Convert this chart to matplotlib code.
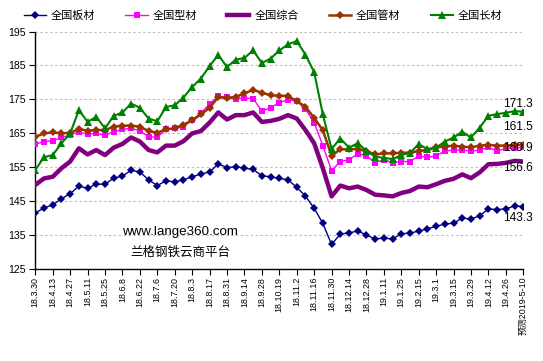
import matplotlib
matplotlib.use("Agg")
import matplotlib.pyplot as plt
from matplotlib.lines import Line2D

plt.rcParams['font.family'] = ['Liberation Sans', 'Noto Sans CJK SC', 'DejaVu Sans']

categories = [
    "18.3.30", "18.4.6", "18.4.13", "18.4.20", "18.4.27", "18.5.4", "18.5.11", "18.5.18",
    "18.5.25", "18.6.1", "18.6.8", "18.6.15", "18.6.22", "18.6.29", "18.7.6", "18.7.13",
    "18.7.20", "18.7.27", "18.8.3", "18.8.10", "18.8.17", "18.8.24", "18.8.31", "18.9.7",
    "18.9.14", "18.9.21", "18.9.28", "18.10.12", "18.10.19", "18.10.26", "18.11.2", "18.11.9",
    "18.11.16", "18.11.23", "18.11.30", "18.12.7", "18.12.14", "18.12.21", "18.12.28", "19.1.4",
    "19.1.11", "19.1.18", "19.1.25", "19.2.1", "19.2.15", "19.2.22", "19.3.1", "19.3.8",
    "19.3.15", "19.3.22", "19.3.29", "19.4.4", "19.4.12", "19.4.19", "19.4.26", "19.5.3",
    "预测2019-5-10",
]

plate = [141.4, 142.9, 143.8, 145.6, 147.1, 149.3, 148.7, 149.9, 149.9, 151.7,
         152.3, 154.0, 153.5, 151.2, 149.5, 150.9, 150.6, 151.2, 152.1, 152.9,
         153.5, 155.9, 154.8, 155.1, 154.6, 154.3, 152.4, 152.1, 151.6, 151.2,
         149.0, 146.4, 142.8, 138.3, 132.1, 135.2, 135.5, 136.1, 134.9, 133.7,
         134.0, 133.7, 135.3, 135.4, 136.1, 136.7, 137.5, 138.1, 138.4, 139.9,
         139.6, 140.6, 142.6, 142.4, 142.6, 143.5, 143.3]

section = [161.7, 162.5, 162.7, 163.7, 164.4, 165.4, 164.6, 164.9, 164.4, 165.4,
           166.1, 166.4, 165.7, 163.9, 163.8, 166.1, 166.4, 166.9, 168.9, 170.8,
           173.6, 175.9, 175.6, 175.0, 175.4, 175.2, 171.5, 172.5, 174.0, 174.8,
           174.5, 172.1, 168.1, 161.3, 153.9, 156.6, 157.1, 158.9, 158.2, 156.3,
           157.1, 156.3, 156.6, 156.6, 158.3, 157.8, 158.3, 159.7, 160.0, 160.0,
           159.7, 160.0, 160.8, 159.7, 160.5, 160.5, 160.9]

composite = [149.7, 151.6, 152.1, 154.6, 156.6, 160.5, 158.7, 160.0, 158.5, 160.7,
             161.8, 163.7, 162.5, 160.0, 159.3, 161.3, 161.3, 162.6, 164.9, 165.6,
             168.1, 171.1, 169.0, 170.3, 170.3, 171.1, 168.3, 168.6, 169.2, 170.3,
             169.3, 165.9, 162.0, 154.6, 146.3, 149.5, 148.7, 149.2, 148.2, 146.8,
             146.6, 146.3, 147.3, 147.9, 149.2, 149.0, 149.9, 150.9, 151.5, 152.8,
             151.7, 153.4, 155.8, 155.9, 156.2, 156.8, 156.6]

pipe = [163.9, 164.9, 165.2, 164.9, 165.1, 166.2, 165.7, 165.9, 165.9, 166.9,
        167.2, 167.2, 166.9, 165.6, 165.1, 166.1, 166.4, 167.4, 168.8, 170.5,
        172.5, 175.6, 175.4, 175.7, 176.7, 177.8, 176.9, 176.2, 176.0, 176.0,
        174.4, 172.8, 169.5, 165.8, 158.3, 160.2, 160.2, 160.3, 159.7, 158.7,
        159.0, 159.0, 159.2, 159.2, 159.7, 160.0, 160.8, 161.0, 161.3, 161.0,
        160.8, 161.3, 161.5, 161.3, 161.3, 161.5, 161.5]

long_ = [154.1, 157.9, 158.5, 162.0, 164.9, 171.8, 168.3, 169.8, 166.4, 170.1,
         171.1, 173.7, 172.5, 169.3, 168.5, 172.7, 173.2, 175.5, 178.6, 181.1,
         184.8, 188.1, 184.5, 186.7, 187.2, 189.4, 185.7, 187.0, 189.4, 191.2,
         192.2, 188.2, 183.0, 170.5, 160.3, 163.4, 160.7, 162.0, 159.8, 158.0,
         157.7, 157.3, 158.5, 159.2, 161.7, 160.3, 160.7, 162.5, 163.7, 165.4,
         163.7, 166.6, 170.1, 170.6, 171.0, 171.5, 171.3]

series_names = ["全国板材", "全国型材", "全国综合", "全国管材", "全国长材"]
y_ticks = [125, 135, 145, 155, 165, 175, 185, 195]

fig = plt.figure(figsize=(5.43, 3.61), dpi=100)
ax = fig.add_axes([0.065, 0.2562, 0.8987, 0.6565])

x = list(range(len(categories)))

styles = [
    dict(data=plate, color="#000080", lw=1.0, marker="D", ms=4.3),
    dict(data=section, color="#FF00FF", lw=1.0, marker="s", ms=5.0),
    dict(data=composite, color="#800080", lw=3.2, marker=None, ms=0),
    dict(data=pipe, color="#993300", lw=1.8, marker="D", ms=3.6),
    dict(data=long_, color="#008000", lw=1.5, marker="^", ms=6.0),
]
handles = []
for name, st in zip(series_names, styles):
    ax.plot(x, st["data"], color=st["color"], lw=st["lw"], marker=st["marker"],
            ms=st["ms"], markeredgewidth=0, solid_joinstyle="round", zorder=3)
    handles.append(Line2D([0], [0], color=st["color"], lw=st["lw"],
                          marker=st["marker"], ms=st["ms"], markeredgewidth=0, label=name))

ax.set_xlim(0, len(categories) - 1)
ax.set_ylim(125, 195)
ax.set_yticks(y_ticks)
ax.set_yticklabels([str(v) for v in y_ticks], fontsize=7.6)
ax.set_xticks(x[::2])
ax.set_xticklabels(categories[::2], rotation=90, fontsize=6.4)
ax.tick_params(axis="x", length=4, width=0.8, pad=2)
ax.tick_params(axis="y", length=4, width=0.8, pad=3)
ax.grid(axis="y", color="#BFBFBF", linestyle=(0, (2.2, 2.2)), linewidth=0.8)
ax.set_axisbelow(True)
for s in ["top", "right"]:
    ax.spines[s].set_visible(False)
for s in ["left", "bottom"]:
    ax.spines[s].set_linewidth(1.0)
    ax.spines[s].set_color("black")

# end data labels
last = len(categories) - 1
offsets = [(-5, -11), (-5, -1), (-5, -6), (-5, 18), (-5, 8)]
for st, (dx, dy) in zip(styles, offsets):
    v = st["data"][-1]
    ax.annotate(f"{v:.1f}", xy=(last, v), xytext=(dx, dy), textcoords="offset pixels",
                ha="center", va="center", fontsize=8.6, color="black", zorder=5,
                annotation_clip=False)

# watermark
ax.text(0.177, 0.155, "www.lange360.com", transform=ax.transAxes, fontsize=9.6,
        color="black", ha="left", va="center")
ax.text(0.195, 0.066, "兰格钢铁云商平台", transform=ax.transAxes, fontsize=9.0,
        color="black", ha="left", va="center")

fig.legend(handles=handles, loc="center", bbox_to_anchor=(263 / 543, 1 - 16 / 361),
           ncol=5, frameon=False, fontsize=8, handlelength=2.0, handletextpad=0.45,
           columnspacing=2.7)

fig.savefig("out.png", dpi=100)
